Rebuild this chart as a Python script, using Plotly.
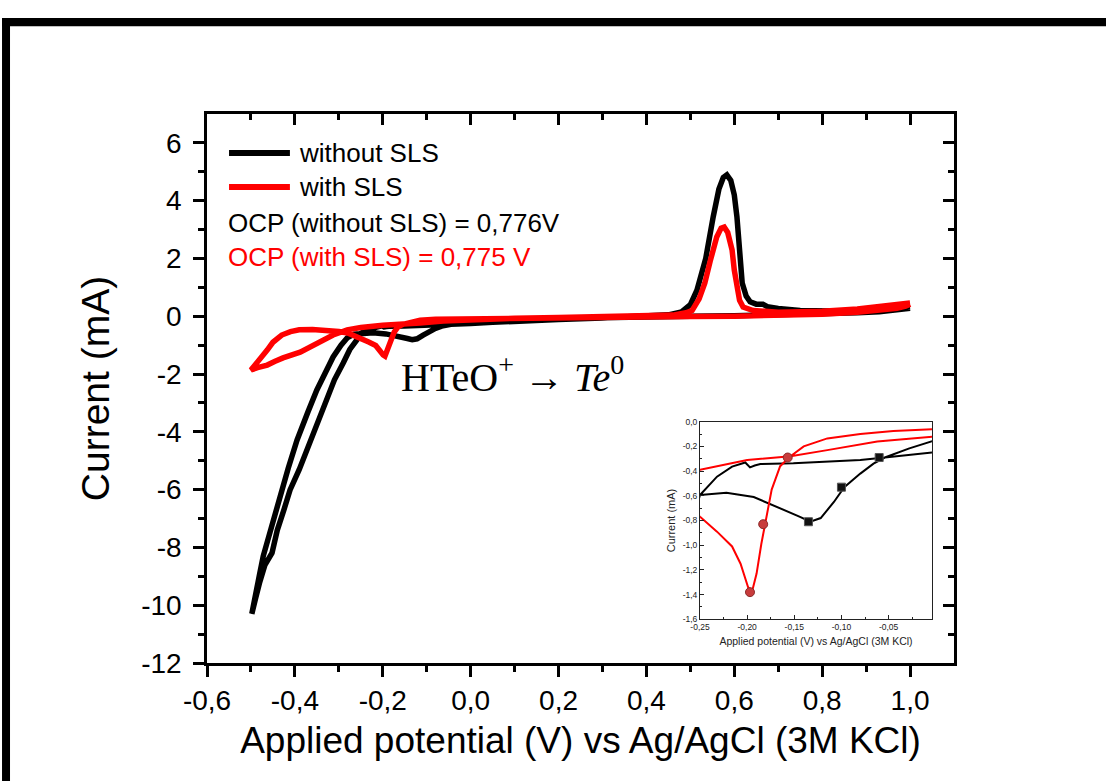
import plotly.graph_objects as go

# ---------------- data ----------------
# without SLS (black): cathodic sweep from 1.0 V, then anodic return
black_v = [1.00, 0.97, 0.93, 0.88, 0.80, 0.70, 0.60, 0.50, 0.40, 0.30, 0.20, 0.10, 0.05, 0.0,
           -0.028, -0.054, -0.066, -0.08, -0.097, -0.108, -0.122, -0.133, -0.144, -0.169, -0.193,
           -0.222, -0.25, -0.265, -0.281, -0.295, -0.313, -0.33, -0.35, -0.37, -0.395, -0.415,
           -0.434, -0.45, -0.463, -0.472, -0.48, -0.488, -0.494, -0.498,
           -0.495, -0.49, -0.48, -0.468, -0.452, -0.44, -0.425, -0.411, -0.39, -0.372, -0.35,
           -0.327, -0.31, -0.29, -0.275, -0.259, -0.25, -0.232, -0.216, -0.202, -0.199, -0.197,
           -0.192, -0.186, -0.151, -0.115, -0.08, -0.054, 0.0, 0.05, 0.1, 0.2, 0.3, 0.4, 0.45,
           0.48, 0.50, 0.515, 0.535, 0.552, 0.565, 0.575, 0.583, 0.592, 0.600, 0.606, 0.612,
           0.618, 0.627, 0.636, 0.65, 0.658, 0.665, 0.675, 0.70, 0.75, 0.80, 0.85, 0.90, 0.95,
           0.98, 1.0]
black_i = [0.28, 0.22, 0.16, 0.12, 0.08, 0.04, 0.02, 0.0, -0.02, -0.04, -0.06, -0.09, -0.11, -0.148,
           -0.216, -0.29, -0.34, -0.42, -0.53, -0.65, -0.78, -0.81, -0.77, -0.69, -0.61,
           -0.575, -0.594, -0.62, -0.75, -1.0, -1.41, -1.9, -2.55, -3.3, -4.28, -5.25,
           -6.25, -7.0, -7.74, -8.3, -8.9, -9.5, -9.9, -10.3,
           -10.1, -9.8, -9.2, -8.6, -8.19, -7.4, -6.7, -6.01, -5.3, -4.63, -3.8,
           -2.9, -2.2, -1.62, -1.15, -0.82, -0.594, -0.445, -0.364, -0.33, -0.35, -0.37,
           -0.355, -0.343, -0.337, -0.324, -0.31, -0.29, -0.25, -0.21, -0.17, -0.11, -0.06, -0.01, 0.05,
           0.15, 0.4, 0.9, 2.0, 3.44, 4.4, 4.8, 4.89, 4.7, 4.2, 3.44, 2.3,
           1.15, 0.7, 0.5, 0.42, 0.4, 0.42, 0.33, 0.27, 0.2, 0.17, 0.17, 0.2, 0.25,
           0.28, 0.32]

# with SLS (red)
red_v = [1.0, 0.99, 0.97, 0.93, 0.88, 0.80, 0.70, 0.60, 0.50, 0.40, 0.30, 0.20, 0.10, 0.0,
         -0.045, -0.08, -0.115, -0.14, -0.154, -0.165, -0.174, -0.181, -0.185, -0.19, -0.195,
         -0.199, -0.207, -0.216, -0.232, -0.25, -0.265, -0.28, -0.30, -0.33, -0.36, -0.39,
         -0.41, -0.43, -0.45, -0.463, -0.48, -0.5,
         -0.485, -0.463, -0.445, -0.427, -0.388, -0.35, -0.313, -0.281, -0.25, -0.2, -0.154,
         -0.115, -0.062, 0.0, 0.1, 0.2, 0.3, 0.4, 0.46, 0.49, 0.504, 0.52, 0.533, 0.545, 0.56,
         0.57, 0.577, 0.585, 0.595, 0.60, 0.606, 0.612, 0.62, 0.643, 0.7, 0.8, 0.88, 0.93,
         0.97, 1.0]
red_i = [0.42, 0.35, 0.28, 0.2, 0.14, 0.07, 0.02, 0.0, -0.01, -0.02, -0.03, -0.04, -0.05, -0.06,
         -0.076, -0.10, -0.135, -0.20, -0.28, -0.36, -0.55, -0.82, -0.99, -1.23, -1.38,
         -1.34, -1.15, -1.01, -0.89, -0.77, -0.66, -0.58, -0.53, -0.48, -0.46, -0.47,
         -0.53, -0.65, -0.9, -1.17, -1.5, -1.86,
         -1.78, -1.69, -1.56, -1.44, -1.24, -0.92, -0.65, -0.47, -0.39, -0.31, -0.28,
         -0.23, -0.16, -0.12, -0.07, -0.04, -0.01, 0.01, 0.04, 0.12, 0.2, 0.6, 1.15, 1.9, 2.74,
         3.05, 3.09, 2.9, 2.29, 1.6, 0.9, 0.55, 0.32, 0.2, 0.14, 0.17, 0.25, 0.33,
         0.4, 0.46]

# highlighted points in the inset
black_mark_v = [-0.06, -0.10, -0.135]
black_mark_i = [-0.29, -0.53, -0.81]
red_mark_v = [-0.157, -0.183, -0.197]
red_mark_i = [-0.29, -0.83, -1.38]

# tick values / labels
main_x_ticks = [-0.6, -0.4, -0.2, 0.0, 0.2, 0.4, 0.6, 0.8, 1.0]
main_x_labels = ["-0,6", "-0,4", "-0,2", "0,0", "0,2", "0,4", "0,6", "0,8", "1,0"]
main_x_minor = [-0.5, -0.3, -0.1, 0.1, 0.3, 0.5, 0.7, 0.9]
main_y_ticks = [6, 4, 2, 0, -2, -4, -6, -8, -10, -12]
main_y_labels = ["6", "4", "2", "0", "-2", "-4", "-6", "-8", "-10", "-12"]
main_y_minor = [5, 3, 1, -1, -3, -5, -7, -9, -11]
inset_x_ticks = [-0.25, -0.20, -0.15, -0.10, -0.05]
inset_x_labels = ["-0,25", "-0,20", "-0,15", "-0,10", "-0,05"]
inset_x_minor = [-0.225, -0.175, -0.125, -0.075, -0.025]
inset_y_ticks = [0.0, -0.2, -0.4, -0.6, -0.8, -1.0, -1.2, -1.4, -1.6]
inset_y_labels = ["0,0", "-0,2", "-0,4", "-0,6", "-0,8", "-1,0", "-1,2", "-1,4", "-1,6"]
inset_y_minor = [-0.1, -0.3, -0.5, -0.7, -0.9, -1.1, -1.3, -1.5]

# ---------------- figure ----------------
FONT = "Liberation Sans, Arial, sans-serif"
BLACK = "#000000"
RED = "#ff0000"

fig = go.Figure()

# main curves
fig.add_trace(go.Scatter(x=black_v, y=black_i, mode="lines", name="without SLS",
                         line=dict(color=BLACK, width=5.5), showlegend=False))
fig.add_trace(go.Scatter(x=red_v, y=red_i, mode="lines", name="with SLS",
                         line=dict(color=RED, width=5.5), showlegend=False))

# dummy trace for mirrored (inside) top/right ticks
fig.add_trace(go.Scatter(x=[None], y=[None], xaxis="x3", yaxis="y3", showlegend=False,
                         hoverinfo="skip"))

# inset curves
fig.add_trace(go.Scatter(x=black_v, y=black_i, mode="lines", xaxis="x2", yaxis="y2",
                         line=dict(color=BLACK, width=2), showlegend=False))
fig.add_trace(go.Scatter(x=red_v, y=red_i, mode="lines", xaxis="x2", yaxis="y2",
                         line=dict(color=RED, width=2), showlegend=False))
fig.add_trace(go.Scatter(x=black_mark_v, y=black_mark_i, mode="markers", xaxis="x2", yaxis="y2",
                         marker=dict(color="#111111", size=8, symbol="square",
                                     line=dict(color="#555555", width=1)), showlegend=False))
fig.add_trace(go.Scatter(x=red_mark_v, y=red_mark_i, mode="markers", xaxis="x2", yaxis="y2",
                         marker=dict(color="#c83c3c", size=9, symbol="circle",
                                     line=dict(color="#8a2a2a", width=1)), showlegend=False))

main_axis_common = dict(showline=True, linecolor=BLACK, linewidth=2.5, showgrid=False,
                        zeroline=False, ticklen=11, tickwidth=2.5, tickcolor=BLACK)

fig.update_layout(
    width=1106, height=781,
    margin=dict(l=207, r=152, t=114, b=118),
    paper_bgcolor="white", plot_bgcolor="white",
    font=dict(family=FONT, color=BLACK),
    xaxis=dict(range=[-0.6, 1.1], domain=[0, 1], anchor="y", ticks="outside",
               tickmode="array", tickvals=main_x_ticks, ticktext=main_x_labels,
               minor=dict(tickmode="array", tickvals=main_x_minor, ticklen=6, tickwidth=2.5,
                          ticks="outside", tickcolor=BLACK),
               tickfont=dict(size=28, family=FONT),
               title=dict(text="Applied potential (V) vs Ag/AgCl (3M KCl)",
                          font=dict(size=37, family=FONT), standoff=12),
               **main_axis_common),
    yaxis=dict(range=[-12, 7], domain=[0, 1], anchor="x", ticks="outside",
               tickmode="array", tickvals=main_y_ticks, ticktext=main_y_labels,
               minor=dict(tickmode="array", tickvals=main_y_minor, ticklen=6, tickwidth=2.5,
                          ticks="outside", tickcolor=BLACK),
               tickfont=dict(size=28, family=FONT), ticklabelstandoff=6,
               title=dict(text="Current (mA)", font=dict(size=39, family=FONT), standoff=20),
               **main_axis_common),
    xaxis3=dict(range=[-0.6, 1.1], overlaying="x", side="top", anchor="y3", ticks="inside",
                tickmode="array", tickvals=main_x_ticks, showticklabels=False,
                minor=dict(tickmode="array", tickvals=main_x_minor, ticklen=6, tickwidth=2.5,
                           ticks="inside", tickcolor=BLACK),
                **main_axis_common),
    yaxis3=dict(range=[-12, 7], overlaying="y", side="right", anchor="x3", ticks="inside",
                tickmode="array", tickvals=main_y_ticks, showticklabels=False,
                minor=dict(tickmode="array", tickvals=main_y_minor, ticklen=6, tickwidth=2.5,
                           ticks="inside", tickcolor=BLACK),
                **main_axis_common),
    xaxis2=dict(range=[-0.25, -0.004], domain=[0.66, 0.9705], anchor="y2",
                showline=True, linecolor="#222222", linewidth=1, mirror=True,
                showgrid=False, zeroline=False, ticks="inside", ticklen=4, tickwidth=1,
                tickcolor="#222222",
                tickmode="array", tickvals=inset_x_ticks, ticktext=inset_x_labels,
                minor=dict(tickmode="array", tickvals=inset_x_minor, ticklen=2, tickwidth=1,
                           ticks="inside", tickcolor="#222222"),
                tickfont=dict(size=8.5, family=FONT, color="#222222"),
                title=dict(text="Applied potential (V) vs Ag/AgCl (3M KCl)",
                           font=dict(size=10.5, family=FONT, color="#222222"), standoff=6)),
    yaxis2=dict(range=[-1.6, 0.0], domain=[0.0796, 0.4395], anchor="x2",
                showline=True, linecolor="#222222", linewidth=1, mirror=True,
                showgrid=False, zeroline=False, ticks="inside", ticklen=4, tickwidth=1,
                tickcolor="#222222",
                tickmode="array", tickvals=inset_y_ticks, ticktext=inset_y_labels,
                minor=dict(tickmode="array", tickvals=inset_y_minor, ticklen=2, tickwidth=1,
                           ticks="inside", tickcolor="#222222"),
                tickfont=dict(size=8.5, family=FONT, color="#222222"),
                title=dict(text="Current (mA)",
                           font=dict(size=11, family=FONT, color="#222222"), standoff=4)),
)

# outer black frame (top and left edges visible)
fig.add_shape(type="rect", xref="paper", yref="paper", x0=-0.2744, x1=-0.2637,
              y0=-0.4, y1=1.1749, fillcolor=BLACK, line=dict(width=0))
fig.add_shape(type="rect", xref="paper", yref="paper", x0=-0.2744, x1=1.4,
              y0=1.16, y1=1.1749, fillcolor=BLACK, line=dict(width=0))

# legend (drawn manually)
fig.add_shape(type="line", xref="paper", yref="paper", x0=0.0295, x1=0.111, y0=0.929, y1=0.929,
              line=dict(color=BLACK, width=6))
fig.add_shape(type="line", xref="paper", yref="paper", x0=0.0295, x1=0.111, y0=0.867, y1=0.867,
              line=dict(color=RED, width=6))

ann_font = dict(size=26, family=FONT)
fig.add_annotation(x=0.1205, y=0.929, xref="paper", yref="paper", text="without SLS",
                   showarrow=False, xanchor="left", yanchor="middle", font=dict(color=BLACK, **ann_font))
fig.add_annotation(x=0.1205, y=0.867, xref="paper", yref="paper", text="with SLS",
                   showarrow=False, xanchor="left", yanchor="middle", font=dict(color=BLACK, **ann_font))
fig.add_annotation(x=0.0254, y=0.8015, xref="paper", yref="paper", text="OCP (without SLS) = 0,776V",
                   showarrow=False, xanchor="left", yanchor="middle", font=dict(color=BLACK, **ann_font))
fig.add_annotation(x=0.0254, y=0.7395, xref="paper", yref="paper", text="OCP (with SLS) = 0,775 V",
                   showarrow=False, xanchor="left", yanchor="middle", font=dict(color=RED, **ann_font))
fig.add_annotation(x=0.257, y=0.5246, xref="paper", yref="paper",
                   text="HTeO<sup>+</sup> <b>→</b> <i>Te</i><sup>0</sup>",
                   showarrow=False, xanchor="left", yanchor="middle",
                   font=dict(size=40, family="Liberation Serif, DejaVu Serif, serif", color=BLACK))

fig.write_html("out.html", config={"displayModeBar": False},
               post_script="document.body.style.margin='0';")
